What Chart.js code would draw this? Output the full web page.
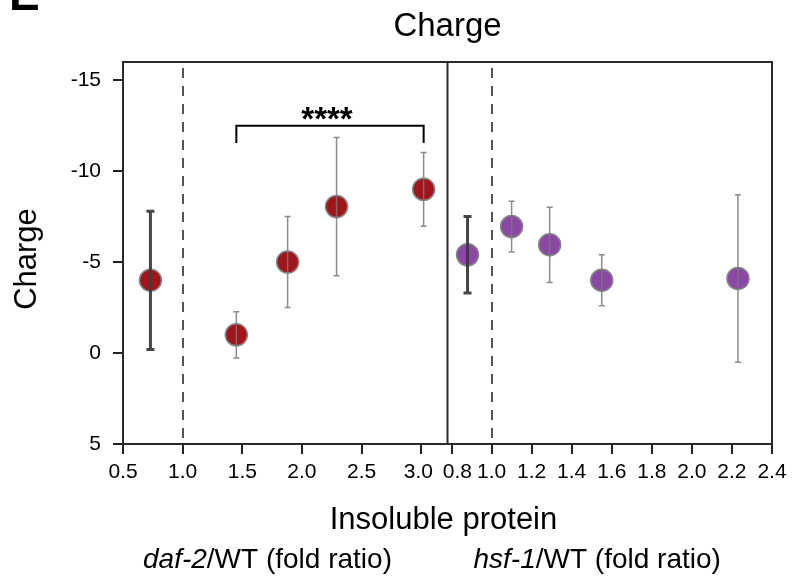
<!DOCTYPE html>
<html>
<head>
<meta charset="utf-8">
<script src="https://cdn.jsdelivr.net/npm/chart.js@4.4.1/dist/chart.umd.min.js"></script>
<style>
  html, body { margin: 0; padding: 0; background: #fff; }
  #wrap { width: 798px; height: 580px; }
</style>
</head>
<body>
<div id="wrap"><canvas id="chargeChart" width="798" height="580"></canvas></div>
<script>
// values (charge axis is reversed: negative up)
const daf2Ratio = [0.73, 1.45, 1.88, 2.29, 3.02];
const daf2Charge = [-4.0, -1.0, -5.0, -8.05, -9.0];
const daf2Error = [3.8, 1.27, 2.5, 3.8, 2.03];

const hsf1Ratio = [0.88, 1.10, 1.29, 1.55, 2.23];
const hsf1Charge = [-5.4, -6.95, -5.95, -4.0, -4.1];
const hsf1Error = [2.1, 1.4, 2.07, 1.4, 4.6];

const daf2Ticks = [0.5, 1.0, 1.5, 2.0, 2.5, 3.0];
const hsf1Ticks = [0.8, 1.0, 1.2, 1.4, 1.6, 1.8, 2.0, 2.2, 2.4];
const chargeTicks = [-15, -10, -5, 0, 5];

const refRatio = 1.0;          // dashed line, WT level
const sigPair = [1, 4];        // daf-2 points joined by the bracket
const sigBar = -12.5;          // bracket height (charge units)
const sigLeg = -11.55;         // bottom of bracket legs
const sigText = '****';

const FONT = "'Liberation Sans', Arial, Helvetica, sans-serif";

const ctx = document.getElementById('chargeChart').getContext('2d');

function toPoints(xs, ys) {
    return xs.map((x, i) => ({ x: x, y: ys[i] }));
}

// Error bars, box, dashed WT lines, bracket and the text around the plot
const figurePlugin = {
    id: 'figureExtras',
    beforeDatasetsDraw(chart) {
        const c = chart.ctx;
        const area = chart.chartArea;
        c.save();
        c.strokeStyle = '#555';
        c.lineWidth = 2;
        c.setLineDash([10, 8]);
        ['xL', 'xR'].forEach(id => {
            const px = Math.round(chart.scales[id].getPixelForValue(refRatio));
            c.beginPath();
            c.moveTo(px, area.top + 6);
            c.lineTo(px, area.bottom);
            c.stroke();
        });
        c.restore();
    },
    afterDatasetsDraw(chart) {
        const c = chart.ctx;
        const y = chart.scales.y;
        chart.data.datasets.forEach(ds => {
            const xs = chart.scales[ds.xAxisID];
            ds.points.forEach((p, i) => {
                const px = xs.getPixelForValue(p.x);
                const top = y.getPixelForValue(p.y - ds.errors[i]);
                const bot = y.getPixelForValue(p.y + ds.errors[i]);
                const first = i === 0;
                const cap = first ? 4 : 3;
                c.save();
                c.strokeStyle = first ? 'rgba(60,60,60,0.95)' : 'rgba(120,120,120,0.85)';
                c.lineWidth = first ? 3 : 1.5;
                c.beginPath();
                c.moveTo(px, top); c.lineTo(px, bot);
                c.moveTo(px - cap, top); c.lineTo(px + cap, top);
                c.moveTo(px - cap, bot); c.lineTo(px + cap, bot);
                c.stroke();
                c.restore();
            });
        });
    },
    afterDraw(chart) {
        const c = chart.ctx;
        const area = chart.chartArea;
        const y = chart.scales.y;
        const xL = chart.scales.xL;
        const xR = chart.scales.xR;
        const midX = (area.left + area.right) / 2;
        c.save();

        // frame and panel divider
        c.strokeStyle = '#2a2a2a';
        c.lineWidth = 2;
        c.strokeRect(area.left, area.top, area.right - area.left, area.bottom - area.top);
        c.beginPath();
        c.moveTo(xR.left, area.top);
        c.lineTo(xR.left, area.bottom);
        c.stroke();

        // significance bracket
        const bx1 = xL.getPixelForValue(daf2Ratio[sigPair[0]]);
        const bx2 = xL.getPixelForValue(daf2Ratio[sigPair[1]]);
        const by = y.getPixelForValue(sigBar);
        const bl = y.getPixelForValue(sigLeg);
        c.strokeStyle = '#000';
        c.lineWidth = 2;
        c.beginPath();
        c.moveTo(bx1, bl); c.lineTo(bx1, by); c.lineTo(bx2, by); c.lineTo(bx2, bl);
        c.stroke();
        c.fillStyle = '#000';
        c.font = 'bold 33px ' + FONT;
        c.textAlign = 'center';
        c.textBaseline = 'alphabetic';
        c.fillText(sigText, (bx1 + bx2) / 2 - 3, by + 4);

        // chart title
        c.font = '33px ' + FONT;
        c.fillText('Charge', midX, 36);

        // y axis title
        c.save();
        c.translate(36, (area.top + area.bottom) / 2 + 6);
        c.rotate(-Math.PI / 2);
        c.font = '31px ' + FONT;
        c.fillText('Charge', 0, 0);
        c.restore();

        // x axis title and panel subtitles
        c.font = '31px ' + FONT;
        c.fillText('Insoluble protein', midX - 4, 529);

        function mixed(x, parts) {
            c.textAlign = 'left';
            parts.forEach(pt => {
                c.font = (pt[1] ? 'italic ' : '') + '28px ' + FONT;
                c.fillText(pt[0], x, 568);
                x += c.measureText(pt[0]).width;
            });
        }
        mixed(xL.left + 20, [['daf-2', true], ['/WT (fold ratio)', false]]);
        mixed(xR.left + 26, [['hsf-1', true], ['/WT (fold ratio)', false]]);

        // panel letter, cut by the top edge
        c.textAlign = 'left';
        c.font = 'bold 46px ' + FONT;
        c.fillText('E', 9, 10);
        c.restore();
    }
};

const tickGrid = { drawOnChartArea: false, drawTicks: true, tickLength: 10, color: '#222', lineWidth: 2 };

function ratioTicks(edge) {
    // labels next to the panel divider are nudged apart with a space, as in the figure
    return {
        color: '#000',
        padding: 6,
        maxRotation: 0,
        autoSkip: false,
        font: { family: FONT, size: 21 },
        callback: (v, i, all) => {
            const s = v.toFixed(1);
            if (edge === 'end' && i === all.length - 1) return s + ' ';
            if (edge === 'start' && i === 0) return '  ' + s;
            return s;
        }
    };
}

const chargeChart = new Chart(ctx, {
    type: 'scatter',
    data: {
        datasets: [
            {
                label: 'daf-2/WT',
                xAxisID: 'xL',
                yAxisID: 'y',
                data: toPoints(daf2Ratio, daf2Charge),
                points: toPoints(daf2Ratio, daf2Charge),
                errors: daf2Error,
                backgroundColor: '#a0141a',
                borderColor: '#858585',
                borderWidth: 1.5,
                pointRadius: 11,
                pointHoverRadius: 11
            },
            {
                label: 'hsf-1/WT',
                xAxisID: 'xR',
                yAxisID: 'y',
                data: toPoints(hsf1Ratio, hsf1Charge),
                points: toPoints(hsf1Ratio, hsf1Charge),
                errors: hsf1Error,
                backgroundColor: '#8c46a6',
                borderColor: '#858585',
                borderWidth: 1.5,
                pointRadius: 11,
                pointHoverRadius: 11
            }
        ]
    },
    options: {
        responsive: false,
        animation: false,
        devicePixelRatio: 1,
        layout: { padding: { left: 0, right: 26, top: 62, bottom: 0 } },
        plugins: {
            legend: { display: false },
            tooltip: { enabled: false },
            title: { display: false }
        },
        scales: {
            xL: {
                type: 'linear',
                position: 'bottom',
                stack: 'ratio',
                stackWeight: 1,
                min: 0.5,
                max: 3.22,
                afterBuildTicks: s => { s.ticks = daf2Ticks.map(v => ({ value: v })); },
                afterFit: s => { s.height = 136; },
                border: { display: false },
                grid: tickGrid,
                ticks: ratioTicks('end')
            },
            xR: {
                type: 'linear',
                position: 'bottom',
                stack: 'ratio',
                stackWeight: 1,
                min: 0.78,
                max: 2.4,
                afterBuildTicks: s => { s.ticks = hsf1Ticks.map(v => ({ value: v })); },
                afterFit: s => { s.height = 136; },
                border: { display: false },
                grid: tickGrid,
                ticks: ratioTicks('start')
            },
            y: {
                type: 'linear',
                position: 'left',
                reverse: true,
                min: -16,
                max: 5,
                afterBuildTicks: s => { s.ticks = chargeTicks.map(v => ({ value: v })); },
                afterFit: s => { s.width = 123; },
                border: { display: false },
                grid: tickGrid,
                ticks: {
                    color: '#000',
                    padding: 12,
                    font: { family: FONT, size: 21 }
                }
            }
        }
    },
    plugins: [figurePlugin]
});
</script>
</body>
</html>
